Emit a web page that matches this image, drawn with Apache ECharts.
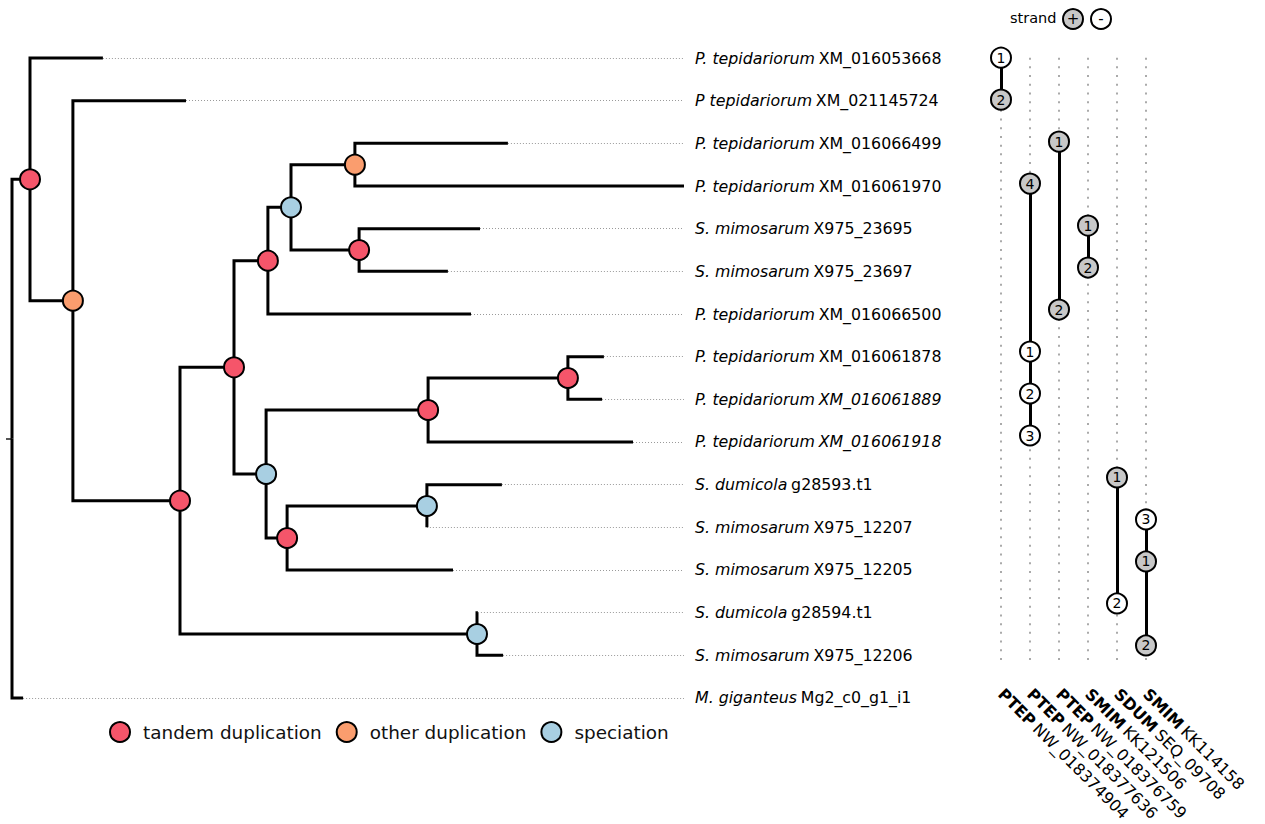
<!DOCTYPE html>
<html><head><meta charset="utf-8">
<script src="https://cdn.jsdelivr.net/npm/echarts@6/dist/echarts.min.js"></script>
<style>html,body{margin:0;padding:0;background:#fff}#chart{width:1265px;height:824px}</style>
</head><body><div id="chart"></div>
<script>
// ---------------- data ----------------
// leaves, in displayed row order (top to bottom)
const leafSpecies = ['P. tepidariorum','P tepidariorum','P. tepidariorum','P. tepidariorum','S. mimosarum','S. mimosarum','P. tepidariorum','P. tepidariorum','P. tepidariorum','P. tepidariorum','S. dumicola','S. mimosarum','S. mimosarum','S. dumicola','S. mimosarum','M. giganteus'];
const leafIds = ['XM_016053668','XM_021145724','XM_016066499','XM_016061970','X975_23695','X975_23697','XM_016066500','XM_016061878','XM_016061889','XM_016061918','g28593.t1','X975_12207','X975_12205','g28594.t1','X975_12206','Mg2_c0_g1_i1'];
const italicIdRows = [8, 9];

// tree: node id, parent id, branch length, event ('' for leaves). Leaf ids are 't' + row.
const nodeIds    = ['root','A','t15','t0','B','t1','C','D','E','t13','t14','F','G','H','t6','I','J','t2','t3','t4','t5','L','K','N','t9','t7','t8','M','t12','t10','t11'];
const nodeParent = [null,'root','root','A','A','B','B','C','C','E','E','D','D','F','F','H','H','I','I','J','J','G','G','L','L','N','N','K','K','M','M'];
const branchLen  = [0,0.060,0.037,0.243,0.143,0.377,0.357,0.180,0.990,0.003,0.087,0.113,0.107,0.077,0.677,0.213,0.227,0.510,1.097,0.403,0.296,0.540,0.070,0.466,0.683,0.120,0.114,0.466,0.553,0.250,0.000];
const nodeEvent  = ['','tandem duplication','','','other duplication','','tandem duplication','tandem duplication','speciation','','','tandem duplication','speciation','speciation','','other duplication','tandem duplication','','','','','tandem duplication','tandem duplication','tandem duplication','','','','speciation','','',''];
const rootEdgeLen = 0.02;

const eventNames  = ['tandem duplication','other duplication','speciation'];
const eventColors = ['#F5556A','#FA9D6E','#A8CFE2'];

// synteny panel: scaffolds (columns) and genes on them
const scaffoldSpecies = ['PTEP','PTEP','PTEP','SMIM','SDUM','SMIM'];
const scaffoldIds     = ['NW_018374904','NW_018377636','NW_018376759','KK121506','SEQ_09708','KK114158'];
const geneCol    = [0,0,1,1,1,1,2,2,3,3,4,4,5,5,5];
const geneRow    = [0,1,3,7,8,9,2,6,4,5,10,13,11,12,14];
const geneOrder  = ['1','2','4','1','2','3','1','2','1','2','1','2','3','1','2'];
const geneStrand = ['-','+','+','-','-','-','+','+','+','+','+','-','-','+','+'];
const panelGuideTop = 0, panelGuideBottom = 14.5;

// ---------------- layout from data ----------------
const idx = {}; nodeIds.forEach((id, i) => idx[id] = i);
const depth = new Array(nodeIds.length).fill(0);
nodeIds.forEach((id, i) => { if (nodeParent[i]) depth[i] = depth[idx[nodeParent[i]]] + branchLen[i]; });
const ypos = new Array(nodeIds.length).fill(null);
const kids = nodeIds.map(() => []);
nodeIds.forEach((id, i) => { if (nodeParent[i]) kids[idx[nodeParent[i]]].push(i); });
for (let i = nodeIds.length - 1; i >= 0; i--) {
  if (kids[i].length === 0) ypos[i] = parseInt(nodeIds[i].slice(1), 10);
  else ypos[i] = kids[i].reduce((s, k) => s + ypos[k], 0) / kids[i].length;
}
const leafIdxs = nodeIds.map((id, i) => i).filter(i => kids[i].length === 0);
const maxDepth = Math.max(...leafIdxs.map(i => depth[i]));
const rootI = idx['root'];

const edges = [];
nodeIds.forEach((id, i) => {
  const p = nodeParent[i]; if (!p) return;
  const pi = idx[p];
  edges.push({ coords: [[depth[pi], ypos[pi]], [depth[pi], ypos[i]], [depth[i], ypos[i]]] });
});
const guides = leafIdxs.map(i => ({ coords: [[depth[i], ypos[i]], [maxDepth, ypos[i]]] }));

const FONT = 'DejaVu Sans';
const eventSeries = eventNames.map((ev, k) => ({
  type: 'scatter', name: ev, xAxisIndex: 0, yAxisIndex: 1, z: 5,
  symbol: 'circle', symbolSize: 20,
  itemStyle: { color: eventColors[k], borderColor: '#000', borderWidth: 2, opacity: 1 },
  data: nodeIds.map((id, i) => i).filter(i => nodeEvent[i] === ev).map(i => [depth[i], ypos[i]])
}));

const colGuides = scaffoldIds.map((s, c) => ({ coords: [[c, panelGuideTop], [c, panelGuideBottom]] }));
const connectors = scaffoldIds.map((s, c) => {
  const rows = geneRow.filter((r, g) => geneCol[g] === c);
  return { coords: [[c, Math.min(...rows)], [c, Math.max(...rows)]] };
});
const geneData = geneCol.map((c, g) => ({
  name: geneOrder[g], value: [c, geneRow[g]],
  itemStyle: { color: geneStrand[g] === '+' ? '#C8C8C8' : '#FFFFFF' }
}));

const option = {
  animation: false,
  backgroundColor: '#fff',
  textStyle: { fontFamily: FONT },
  grid: [
    { left: 6, right: 575, top: 36.67, bottom: 104.67 },
    { left: 986.5, right: 104.5, top: 36.67, bottom: 126 }
  ],
  xAxis: [
    { type: 'value', gridIndex: 0, min: -rootEdgeLen, max: 2.26, show: false },
    { type: 'category', gridIndex: 1, data: scaffoldIds, boundaryGap: true,
      axisLine: { show: false }, axisTick: { show: false }, splitLine: { show: false },
      axisLabel: { interval: 0, rotate: -45, margin: 4,
        formatter: (v, i) => '{b|' + scaffoldSpecies[i] + '} {n|' + v + '}',
        rich: { b: { fontFamily: FONT, fontSize: 16, fontWeight: 'bold', color: '#000' },
                n: { fontFamily: FONT, fontSize: 16, color: '#000' } } } }
  ],
  yAxis: [
    { type: 'category', gridIndex: 0, position: 'right', inverse: true, data: leafIds,
      axisLine: { show: false }, axisTick: { show: false }, splitLine: { show: false },
      axisLabel: { interval: 0, margin: 5, align: 'left',
        formatter: (v, i) => '{i|' + leafSpecies[i] + '} {' + (italicIdRows.includes(i) ? 'i' : 'n') + '|' + v + '}',
        rich: { i: { fontFamily: FONT, fontSize: 15.8, fontStyle: 'italic', color: '#000' },
                n: { fontFamily: FONT, fontSize: 15.8, color: '#000' } } } },
    { type: 'value', gridIndex: 0, min: -0.5, max: 15.5, inverse: true, show: false, splitLine: { show: false } },
    { type: 'value', gridIndex: 1, min: -0.5, max: 15, inverse: true, show: false, splitLine: { show: false } }
  ],
  legend: {
    data: eventNames, left: 104, top: 716, orient: 'horizontal',
    itemWidth: 36, itemHeight: 20, itemGap: 14, icon: 'circle',
    itemStyle: { borderColor: '#000', borderWidth: 2 },
    textStyle: { fontFamily: FONT, fontSize: 18.4, color: '#111' }
  },
  graphic: [
    { type: 'text', left: 1010, top: 10, style: { text: 'strand', fontFamily: FONT, fontSize: 14.5, fill: '#000' } },
    { type: 'circle', shape: { cx: 1073, cy: 19, r: 10 }, style: { fill: '#C8C8C8', stroke: '#000', lineWidth: 2 } },
    { type: 'text', x: 1073, y: 19, style: { text: '+', fontFamily: FONT, fontSize: 15, fill: '#000', align: 'center', verticalAlign: 'middle' } },
    { type: 'circle', shape: { cx: 1101, cy: 19, r: 10 }, style: { fill: '#FFFFFF', stroke: '#000', lineWidth: 2 } },
    { type: 'text', x: 1101, y: 19, style: { text: '-', fontFamily: FONT, fontSize: 15, fill: '#000', align: 'center', verticalAlign: 'middle' } }
  ],
  series: [
    { type: 'lines', coordinateSystem: 'cartesian2d', xAxisIndex: 0, yAxisIndex: 1, z: 1, silent: true,
      lineStyle: { color: '#9a9a9a', width: 1, type: [1, 2], opacity: 1 }, data: guides },
    { type: 'lines', coordinateSystem: 'cartesian2d', xAxisIndex: 0, yAxisIndex: 1, z: 2, silent: true,
      lineStyle: { color: '#555', width: 2, opacity: 1 },
      data: [{ coords: [[-rootEdgeLen, ypos[rootI]], [0, ypos[rootI]]] }] },
    { type: 'lines', coordinateSystem: 'cartesian2d', polyline: true, xAxisIndex: 0, yAxisIndex: 1, z: 3, silent: true,
      lineStyle: { color: '#000', width: 3, opacity: 1, join: 'miter', cap: 'butt' }, data: edges },
    ...eventSeries,
    { type: 'lines', coordinateSystem: 'cartesian2d', xAxisIndex: 1, yAxisIndex: 2, z: 1, silent: true,
      lineStyle: { color: '#aaaaaa', width: 2, type: [2, 6.7], opacity: 1 }, data: colGuides },
    { type: 'lines', coordinateSystem: 'cartesian2d', xAxisIndex: 1, yAxisIndex: 2, z: 2, silent: true,
      lineStyle: { color: '#000', width: 3, opacity: 1 }, data: connectors },
    { type: 'scatter', xAxisIndex: 1, yAxisIndex: 2, z: 5, symbol: 'circle', symbolSize: 20,
      itemStyle: { borderColor: '#000', borderWidth: 2, opacity: 1 },
      label: { show: true, position: 'inside', formatter: '{b}', fontFamily: FONT, fontSize: 14, color: '#000' },
      data: geneData }
  ]
};
const chart = echarts.init(document.getElementById('chart'), null, { renderer: 'svg' });
chart.setOption(option);
</script></body></html>
